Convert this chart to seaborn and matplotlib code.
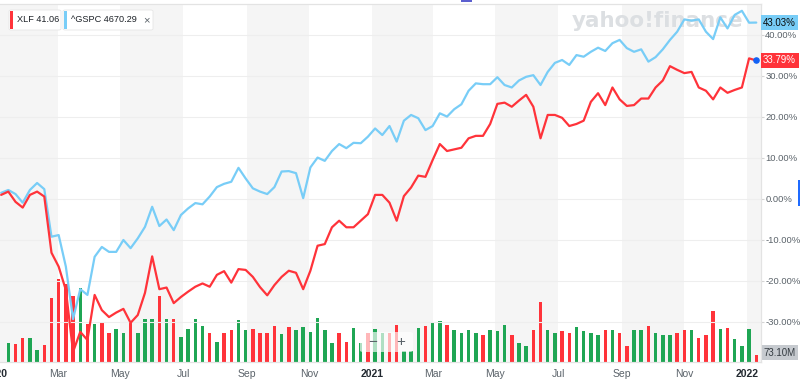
import numpy as np
import pandas as pd
import matplotlib
matplotlib.use("Agg")
import matplotlib.pyplot as plt
from matplotlib.patches import FancyBboxPatch, Rectangle
import seaborn as sns

# weekly closes, % change since first week
weeks = pd.date_range("2020-01-06", periods=106, freq="7D")
xlf_pct = [1.0, 1.8, -0.7, -2.1, 1.0, 1.8, 0.6, -13.1, -16.5, -22.2,
           -37.3, -32.4, -34.4, -23.4, -27.1, -28.8, -27.7, -26.8, -30.2, -28.3,
           -22.9, -14.0, -22.0, -21.6, -25.4, -23.9, -22.6, -21.4, -20.6, -21.4,
           -18.5, -17.6, -20.4, -17.1, -17.3, -19.0, -21.5, -23.5, -21.0, -19.0,
           -17.5, -18.0, -22.0, -17.5, -11.4, -11.0, -6.9, -5.3, -6.9, -6.9,
           -5.3, -3.7, 1.0, 1.0, -0.9, -5.3, 0.7, 2.8, 5.7, 5.4,
           9.5, 13.4, 11.7, 12.1, 12.5, 14.8, 15.4, 15.4, 18.3, 23.2,
           23.5, 22.5, 24.0, 25.4, 22.5, 14.8, 20.5, 20.5, 19.8, 17.8,
           18.3, 19.1, 23.7, 25.8, 22.9, 27.2, 24.3, 22.7, 22.9, 24.5,
           24.5, 27.2, 28.9, 32.4, 31.5, 30.7, 31.0, 27.2, 26.4, 24.3,
           27.2, 25.9, 26.6, 27.2, 34.3, 33.79]
gspc_pct = [1.5, 2.2, 1.2, -0.9, 2.2, 3.9, 2.4, -9.2, -8.8, -16.5,
            -29.3, -22.0, -23.4, -14.1, -11.7, -12.9, -12.9, -10.0, -12.0, -9.6,
            -6.8, -1.9, -6.6, -5.0, -7.6, -3.9, -2.3, -1.0, -1.3, 0.6,
            2.9, 3.7, 4.2, 7.6, 5.0, 2.6, 1.8, 1.2, 2.9, 6.7,
            6.8, 6.3, 0.2, 7.7, 10.1, 9.3, 11.7, 13.4, 12.4, 13.7,
            13.6, 15.2, 17.2, 15.6, 17.8, 14.0, 19.1, 20.5, 19.7, 16.8,
            17.8, 20.9, 20.1, 21.9, 23.1, 26.4, 28.2, 28.0, 28.0, 29.7,
            27.8, 27.2, 28.9, 29.8, 30.2, 27.8, 31.0, 33.2, 33.9, 32.7,
            35.1, 34.7, 35.9, 36.9, 36.1, 38.0, 38.8, 36.8, 35.9, 36.5,
            33.5, 34.6, 36.5, 38.8, 40.8, 43.8, 43.5, 43.8, 40.8, 39.0,
            44.3, 41.6, 44.9, 45.9, 43.0, 43.03]
# XLF weekly volume, millions
xlf_volume_m = [np.nan, 195, 185, 254, 254, 125, 177, 665, 863, 814,
                689, 769, 394, 394, 414, 306, 345, 306, 414, 300,
                449, 449, 692, 449, 449, 264, 345, 449, 376, 303,
                209, 303, 334, 438, 334, 345, 303, 303, 376, 292,
                365, 334, 365, 313, 459, 334, 198, 303, 209, 355,
                198, 303, 345, 303, 303, 386, 115, 115, 355, 376,
                418, 428, 386, 334, 303, 334, 303, 282, 334, 324,
                386, 282, 198, 167, 334, 626, 334, 303, 324, 303,
                365, 324, 303, 282, 334, 334, 303, 167, 334, 334,
                376, 303, 282, 282, 303, 334, 334, 251, 282, 536,
                341, 358, 243, 167, 341, 73.1]
# G = up week, R = down week
xlf_bar_dir = ("GGRRGGRRRR" "RGRGRRGGRG" "GGRGRGGGGR" "GRRGGRRRRG" "RGGGGGGRRG"
               "GRGGRRGGGR" "GGRGGGGRGG" "GRGGRRGGRR" "GGGGRGRRGG" "RGGGRRGRRR"
               "GRGGGR")
tick_dates = pd.date_range("2020-01-01", "2022-01-01", freq="2MS")
tick_labels = ["2020", "Mar", "May", "Jul", "Sep", "Nov", "2021",
               "Mar", "May", "Jul", "Sep", "Nov", "2022"]
band_starts = pd.date_range("2020-01-01", "2022-01-01", freq="4MS")
y_ticks = [-30, -20, -10, 0, 10, 20, 30, 40]

RED = "#ff333a"
GREEN = "#1fa654"
BLUE = "#78cdf7"
GREY_TXT = "#5b636a"

sns.set_style("white")
plt.rcParams["font.family"] = ["Liberation Sans", "DejaVu Sans"]

fig = plt.figure(figsize=(8, 3.8), dpi=100)
axv = fig.add_axes([-4 / 800, 18 / 380, 765 / 800, 358 / 380])
ax = axv.twinx()

x_start = pd.Timestamp("2020-01-01")
x_end = x_start + pd.Timedelta(days=744.6)

# alternating month bands
for b in band_starts:
    axv.axvspan(b, min(b + pd.DateOffset(months=2), x_end), color="#f5f5f5", lw=0, zorder=0)

axv.text(0.865, 0.952, "yahoo!finance", transform=axv.transAxes, ha="center", va="center",
         fontsize=15.5, fontweight="bold", color="#dcdfe2", zorder=1, family="DejaVu Sans")

bar_cols = [GREEN if c == "G" else RED for c in xlf_bar_dir]
axv.bar(weeks, xlf_volume_m, width=3.4, color=bar_cols, lw=0, zorder=2)
axv.set_ylim(0, 73.1 / 7 * 358)
axv.set_yticks([])
axv.set_xlim(x_start, x_end)
axv.set_xticks(tick_dates)
axv.set_xticklabels(tick_labels)
axv.tick_params(axis="x", length=3, color="#d5d5d5", labelsize=7.5, labelcolor=GREY_TXT, pad=2)
for lab in axv.get_xticklabels():
    if lab.get_text().isdigit():
        lab.set_color("#232a31")
        lab.set_fontweight("bold")

for s in ["left"]:
    axv.spines[s].set_visible(False)
    ax.spines[s].set_visible(False)
for s in ["top", "bottom", "right"]:
    axv.spines[s].set_color("#e3e3e3")
    ax.spines[s].set_color("#e3e3e3")
    axv.spines[s].set_linewidth(0.8)
    ax.spines[s].set_linewidth(0.8)

for v in y_ticks:
    ax.axhline(v, color="#eeeeee", lw=0.8, zorder=0)

sns.lineplot(x=weeks, y=gspc_pct, ax=ax, color=BLUE, lw=1.6, zorder=4)
sns.lineplot(x=weeks, y=xlf_pct, ax=ax, color=RED, lw=1.6, zorder=5)
ax.scatter([weeks[-1]], [xlf_pct[-1]], s=14, color="#1262f5", zorder=6)

ax.set_ylim(-39.76, 47.56)
ax.set_xlim(x_start, x_end)
ax.set_yticks(y_ticks)
ax.set_yticklabels([f"{v:.2f}%" for v in y_ticks])
ax.tick_params(axis="y", length=2, color="#d5d5d5", labelsize=6.8, labelcolor=GREY_TXT, pad=1)
ax.set_xlabel("")
ax.set_ylabel("")

ax.annotate(f"{gspc_pct[-1]:.2f}%", xy=(1.0, gspc_pct[-1]), xycoords=("axes fraction", "data"),
            xytext=(1.5, 0), textcoords="offset points", ha="left", va="center", fontsize=7,
            color="#0a0a0a", bbox=dict(boxstyle="square,pad=0.25", fc=BLUE, ec="none"),
            annotation_clip=False)
ax.annotate(f"{xlf_pct[-1]:.2f}%", xy=(1.0, xlf_pct[-1]), xycoords=("axes fraction", "data"),
            xytext=(1.5, 0), textcoords="offset points", ha="left", va="center", fontsize=7,
            color="white", bbox=dict(boxstyle="square,pad=0.25", fc=RED, ec="none"),
            annotation_clip=False)
axv.annotate(f"{xlf_volume_m[-1]:.2f}M", xy=(1.0, xlf_volume_m[-1]), xycoords=("axes fraction", "data"),
             xytext=(1.5, 1.5), textcoords="offset points", ha="left", va="center", fontsize=7,
             color="#333a40", bbox=dict(boxstyle="square,pad=0.25", fc="#c6cacf", ec="none"),
             annotation_clip=False)


# legend chips
def px(x, y):
    return x / 800, 1 - y / 380


chips = [(9, 61, RED, "XLF 41.06", None), (63, 153, BLUE, "^GSPC 4670.29", "\u00d7")]
for x0, x1, col, label, close in chips:
    fig.patches.append(FancyBboxPatch(px(x0, 30), (x1 - x0) / 800, 20 / 380,
                                      boxstyle="round,pad=0,rounding_size=0.003",
                                      transform=fig.transFigure, fc="white", ec="#e6e6e6", lw=0.6, zorder=3))
    fig.patches.append(Rectangle(px(x0 + 1, 29), 3 / 800, 18 / 380, transform=fig.transFigure,
                                 fc=col, ec="none", zorder=4))
    fig.text(*px(x0 + 8, 20), label, ha="left", va="center", fontsize=6.6, color="#1d2228", zorder=5)
    if close:
        fig.text(*px(x1 - 7, 20), close, ha="center", va="center", fontsize=8, color=GREY_TXT, zorder=5)

# zoom control
fig.patches.append(FancyBboxPatch(px(360, 352), 53 / 800, 20 / 380, boxstyle="round,pad=0,rounding_size=0.004",
                                  transform=fig.transFigure, fc="white", ec="none", alpha=0.65, zorder=3))
fig.text(*px(373, 342), "\u2212", ha="center", va="center", fontsize=11, color=GREY_TXT, zorder=5)
fig.text(*px(401, 342), "+", ha="center", va="center", fontsize=11, color=GREY_TXT, zorder=5)

# small ui marks
fig.patches.append(Rectangle(px(461, 2), 11 / 800, 2 / 380, transform=fig.transFigure,
                             fc="#5b5fcf", ec="none", zorder=4))
fig.patches.append(Rectangle(px(798, 206), 2 / 800, 26 / 380, transform=fig.transFigure,
                             fc="#1f6bff", ec="none", zorder=4))

fig.savefig("out.png", dpi=100)
